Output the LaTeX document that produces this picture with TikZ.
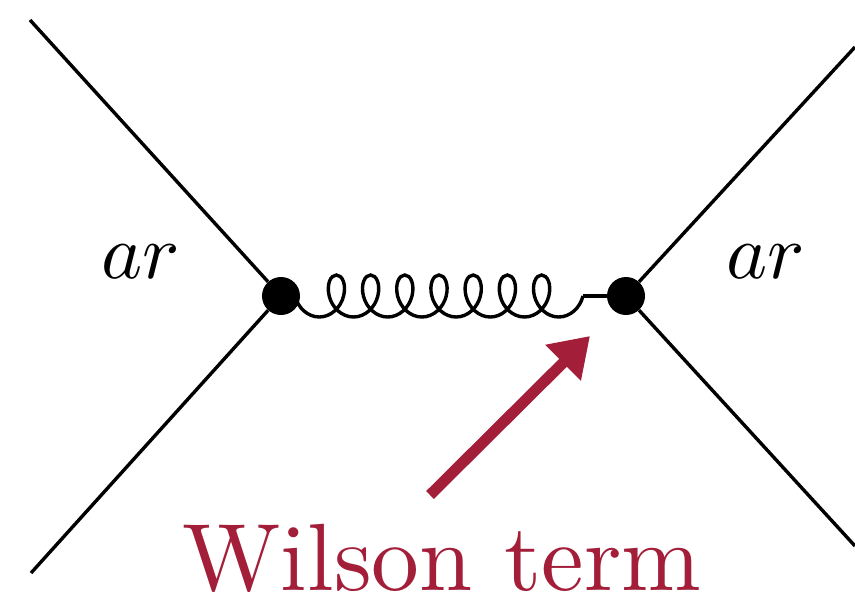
\documentclass[tikz,border=0pt]{standalone}
\usepackage{amsmath}
\usepackage{xcolor}
\usetikzlibrary{arrows.meta, decorations.pathmorphing}
\definecolor{wilsonred}{RGB}{163, 30, 57}
\begin{document}
\begin{tikzpicture}[x=1pt, y=-1pt]
    \tikzstyle{vertex} = [circle, fill=black, inner sep=0pt, minimum size=38]
    \tikzstyle{leg} = [line width=3.4]
    \tikzstyle{gluon} = [line width=3.4, decorate, decoration={coil, aspect=0.75, segment length=34.2, amplitude=21}]
    \tikzstyle{wilsonarrow} = [line width=11, wilsonred, -{Triangle[length=38, width=48]}]
    \useasboundingbox (0,0) rectangle (855,592);

    \node (vl) [vertex] at (281,296) {};
    \node (vr) [vertex] at (626,296) {};
    \coordinate (tl) at (30,20);
    \coordinate (bl) at (31,573);
    \coordinate (tr) at (855,47);
    \coordinate (br) at (855,546);
    \coordinate (gend) at (583,296);
    \coordinate (atail) at (430,495);
    \coordinate (ahead) at (590,336);

    \draw [leg] (tl) -- (vl);
    \draw [leg] (bl) -- (vl);
    \draw [leg] (tr) -- (vr);
    \draw [leg] (br) -- (vr);
    \draw [gluon] (gend) -- (vl.center);
    \draw [leg] (gend) -- (vr);
    \draw [wilsonarrow] (atail) -- (ahead);

    \node (arl) [scale=7.8] at (141,262) {$ar$};
    \node (arr) [scale=7.8] at (766,262) {$ar$};
    \node (wilson) [text=wilsonred, anchor=base, inner sep=0pt, scale=9.56] at (442,590) {Wilson term};
\end{tikzpicture}
\end{document}
